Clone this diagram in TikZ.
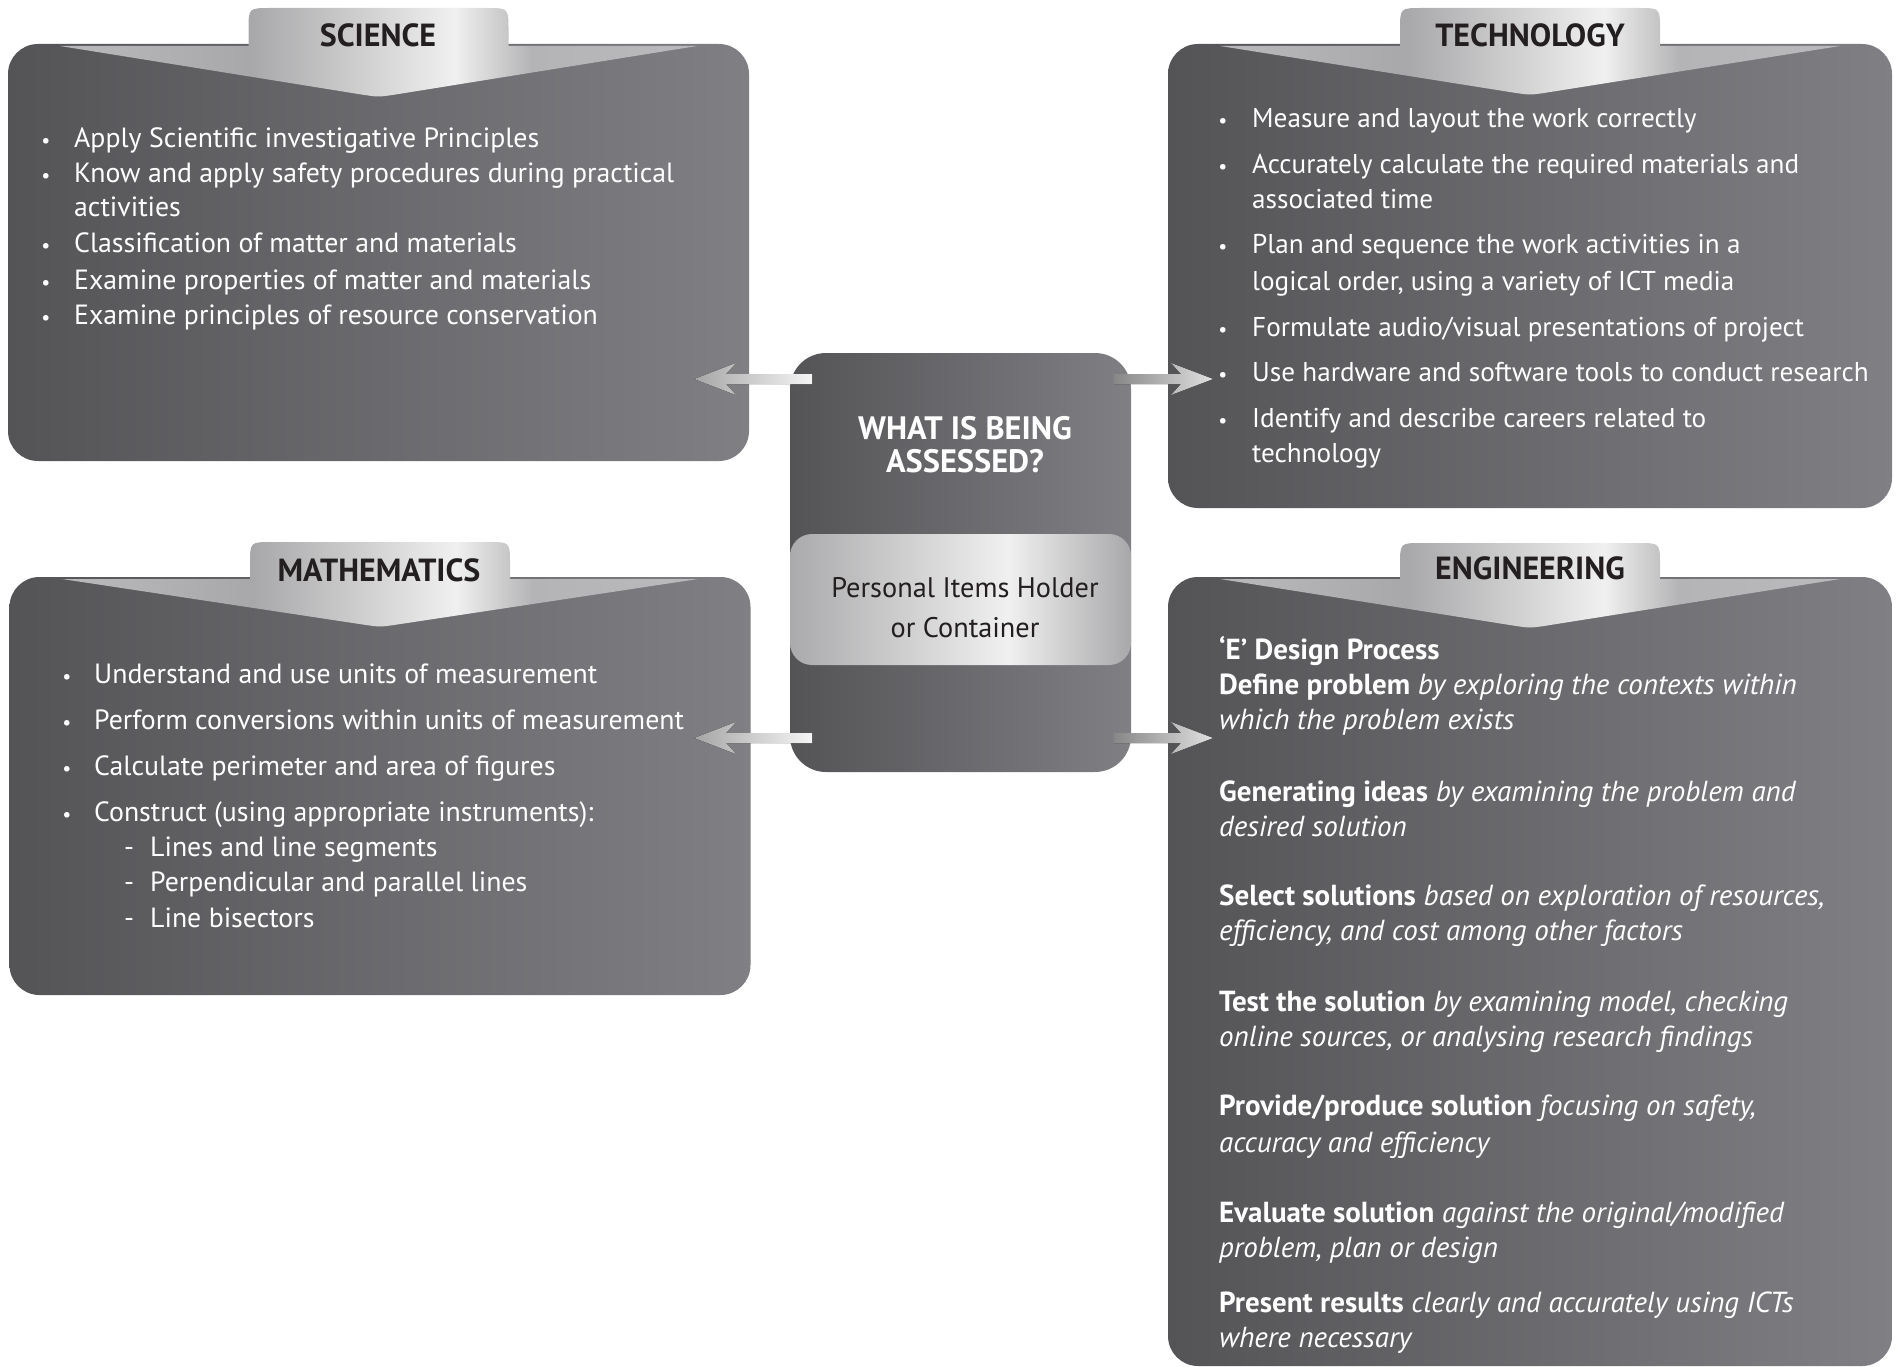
\documentclass[tikz,border=0pt]{standalone}
\usepackage{fontspec}
\setmainfont{PT Sans}
\definecolor{boxL}{RGB}{84,84,87}
\definecolor{boxR}{RGB}{128,128,132}
\definecolor{hdr}{RGB}{35,31,32}
\definecolor{tabA}{RGB}{186,186,188}
\definecolor{tabB}{RGB}{168,168,170}
\definecolor{tabW}{RGB}{240,240,240}
\definecolor{tabC}{RGB}{180,180,182}
\definecolor{bandA}{RGB}{170,170,172}
\definecolor{bandR}{RGB}{168,168,170}
\pgfdeclarehorizontalshading{tabshade}{100bp}{color(0bp)=(tabA); color(25bp)=(tabA); color(40bp)=(tabB); color(56bp)=(tabW); color(62bp)=(tabC); color(75bp)=(tabA); color(100bp)=(tabA)}
\pgfdeclarehorizontalshading{bandshade}{100bp}{color(0bp)=(bandA); color(25bp)=(bandA); color(57bp)=(tabW); color(75bp)=(bandR); color(100bp)=(bandR)}
\newcommand\mytab[5]{%
  \pgfmathsetmacro\tabcx{(#1+#2)/2}%
  \pgfmathsetmacro\tabta{\tabcx-130}%
  \pgfmathsetmacro\tabtb{\tabcx+130}%
  \pgfmathsetmacro\tabca{#1+52}%
  \pgfmathsetmacro\tabcb{#2-52}%
  \path[shading=tabshade] (\tabca,#3+2) -- (\tabta,#3+2) -- (\tabta,#4+22)
    .. controls (\tabta,#4) .. (\tabta+22,#4) -- (\tabtb-22,#4)
    .. controls (\tabtb,#4) .. (\tabtb,#4+22) -- (\tabtb,#3+2) -- (\tabcb,#3+2)
    -- (\tabcx+14,#5-2) .. controls (\tabcx,#5) .. (\tabcx-14,#5-2) -- cycle;}
\begin{document}
\begin{tikzpicture}[x=1pt,y=-1pt,
  box/.style={rounded corners=30pt, left color=boxL, right color=boxR, draw=none, inner sep=0, outer sep=0},
  hdr/.style={anchor=base, text=hdr, font=\fontsize{32}{32}\selectfont\bfseries, inner sep=0},
  txt/.style={anchor=base west, text=white, font=\fontsize{27.8}{33}\selectfont, inner sep=0},
  ttxt/.style={anchor=base west, text=white, font=\fontsize{27.2}{33}\selectfont, inner sep=0},
  etxt/.style={anchor=base west, text=white, font=\fontsize{29}{33}\selectfont, inner sep=0},
  bul/.style={anchor=base, text=white, font=\fontsize{20}{20}\selectfont, inner sep=0},
  ctxt/.style={anchor=base, text=white, font=\fontsize{32.4}{32}\selectfont\bfseries, inner sep=0},
  dtxt/.style={anchor=base, text=hdr, font=\fontsize{28.3}{28}\selectfont, inner sep=0}]
\useasboundingbox[fill=white] (0,0) rectangle (1898,1367);
% boxes
\node[box, minimum width=741pt, minimum height=417pt] (sci) at (378.5,252.5) {};
\node[box, minimum width=724pt, minimum height=464pt] (tec) at (1530,276) {};
\node[box, minimum width=741pt, minimum height=418pt] (mat) at (380,786) {};
\node[box, minimum width=724pt, minimum height=789pt] (eng) at (1530,971.5) {};
% tabs
\mytab{8}{749}{44}{8}{97}
\mytab{1168}{1892}{44}{8}{95}
\mytab{10}{750}{577}{542}{627}
\mytab{1168}{1892}{577}{543}{628}
\node[hdr] (hS) at (378,47) {SCIENCE};
\node[hdr] (hT) at (1530,47) {TECHNOLOGY};
\node[hdr] (hM) at (379,581) {MATHEMATICS};
\node[hdr] (hE) at (1530,579) {ENGINEERING};
% centre
\node[box, rounded corners=36pt, minimum width=341pt, minimum height=419pt] (ctr) at (960.5,562.5) {};
\node[shading=bandshade, rounded corners=22pt, minimum width=341pt, minimum height=131pt, inner sep=0] (band) at (960.5,599.5) {};
\node[ctxt] (c1) at (965,439) {WHAT IS BEING};
\node[ctxt] (c2) at (965,472) {ASSESSED?};
\node[dtxt] (c3) at (965,597) {Personal Items Holder};
\node[dtxt] (c4) at (965,637) {or Container};
% arrows
\coordinate (aS) at (694,379);
\coordinate (aM) at (694,738);
\coordinate (aT) at (1114,379);
\coordinate (aE) at (1114,738);
\fill[left color=black!35, right color=black!4] (aS) -- ++(42,-16) -- ++(-10,11) -- ++(86,0) -- ++(0,10) -- ++(-86,0) -- ++(10,11) -- cycle;
\fill[left color=black!35, right color=black!4] (aM) -- ++(42,-16) -- ++(-10,11) -- ++(86,0) -- ++(0,10) -- ++(-86,0) -- ++(10,11) -- cycle;
\fill[left color=black!47, right color=black!12] (aT) ++(0,-5) -- ++(67,0) -- ++(-10,-11) -- ++(42,16) -- ++(-42,16) -- ++(10,-11) -- ++(-67,0) -- cycle;
\fill[left color=black!47, right color=black!12] (aE) ++(0,-5) -- ++(67,0) -- ++(-10,-11) -- ++(42,16) -- ++(-42,16) -- ++(10,-11) -- ++(-67,0) -- cycle;
% science text
\foreach \n/\y in {1/148,2/183,4/252,5/289,6/324} \node[bul] (sb\n) at (46,\y) {•};
\node[txt] (s1) at (74,148) {Apply Scientific investigative Principles};
\node[txt] (s2) at (74,183) {Know and apply safety procedures during practical};
\node[txt] (s3) at (74,217) {activities};
\node[txt] (s4) at (74,252) {Classification of matter and materials};
\node[txt] (s5) at (74,289) {Examine properties of matter and materials};
\node[txt] (s6) at (74,324) {Examine principles of resource conservation};
% technology text
\foreach \n/\y in {1/128,2/174,4/254,6/336,7/381,8/427} \node[bul] (tb\n) at (1223,\y) {•};
\node[ttxt] (t1) at (1252,128) {Measure and layout the work correctly};
\node[ttxt] (t2) at (1252,174) {Accurately calculate the required materials and};
\node[ttxt] (t3) at (1252,209) {associated time};
\node[ttxt] (t4) at (1252,254) {Plan and sequence the work activities in a};
\node[ttxt] (t5) at (1252,290) {logical order, using a variety of ICT media};
\node[ttxt] (t6) at (1252,336) {Formulate audio/visual presentations of project};
\node[ttxt] (t7) at (1252,381) {Use hardware and software tools to conduct research};
\node[ttxt] (t8) at (1252,427) {Identify and describe careers related to};
\node[ttxt] (t9) at (1252,462) {technology};
% mathematics text
\foreach \n/\y in {1/683,2/729,3/775,4/821} \node[bul] (mb\n) at (67,\y) {•};
\node[txt] (m1) at (94,683) {Understand and use units of measurement};
\node[txt] (m2) at (94,729) {Perform conversions within units of measurement};
\node[txt] (m3) at (94,775) {Calculate perimeter and area of figures};
\node[txt] (m4) at (94,821) {Construct (using appropriate instruments):};
\foreach \n/\y in {5/856,6/891,7/927} \node[txt] (md\n) at (124,\y) {-};
\node[txt] (m5) at (150,856) {Lines and line segments};
\node[txt] (m6) at (150,891) {Perpendicular and parallel lines};
\node[txt] (m7) at (150,927) {Line bisectors};
% engineering text
\node[etxt] (e1) at (1219,659) {\bfseries ‘E’ Design Process};
\node[etxt] (e2) at (1219,694) {\textbf{Define problem} \textit{by exploring the contexts within}};
\node[etxt] (e3) at (1219,729) {\itshape which the problem exists};
\node[etxt] (e4) at (1219,801) {\textbf{Generating ideas} \textit{by examining the problem and}};
\node[etxt] (e5) at (1219,836) {\itshape desired solution};
\node[etxt] (e6) at (1219,905) {\textbf{Select solutions} \textit{based on exploration of resources,}};
\node[etxt] (e7) at (1219,940) {\itshape efficiency, and cost among other factors};
\node[etxt] (e8) at (1219,1011) {\textbf{Test the solution} \textit{by examining model, checking}};
\node[etxt] (e9) at (1219,1046) {\itshape online sources, or analysing research findings};
\node[etxt] (e10) at (1219,1115) {\textbf{Provide/produce solution} \textit{focusing on safety,}};
\node[etxt] (e11) at (1219,1152) {\itshape accuracy and efficiency};
\node[etxt] (e12) at (1219,1222) {\textbf{Evaluate solution} \textit{against the original/modified}};
\node[etxt] (e13) at (1219,1257) {\itshape problem, plan or design};
\node[etxt] (e14) at (1219,1312) {\textbf{Present results} \textit{clearly and accurately using ICTs}};
\node[etxt] (e15) at (1219,1347) {\itshape where necessary};
\end{tikzpicture}
\end{document}
